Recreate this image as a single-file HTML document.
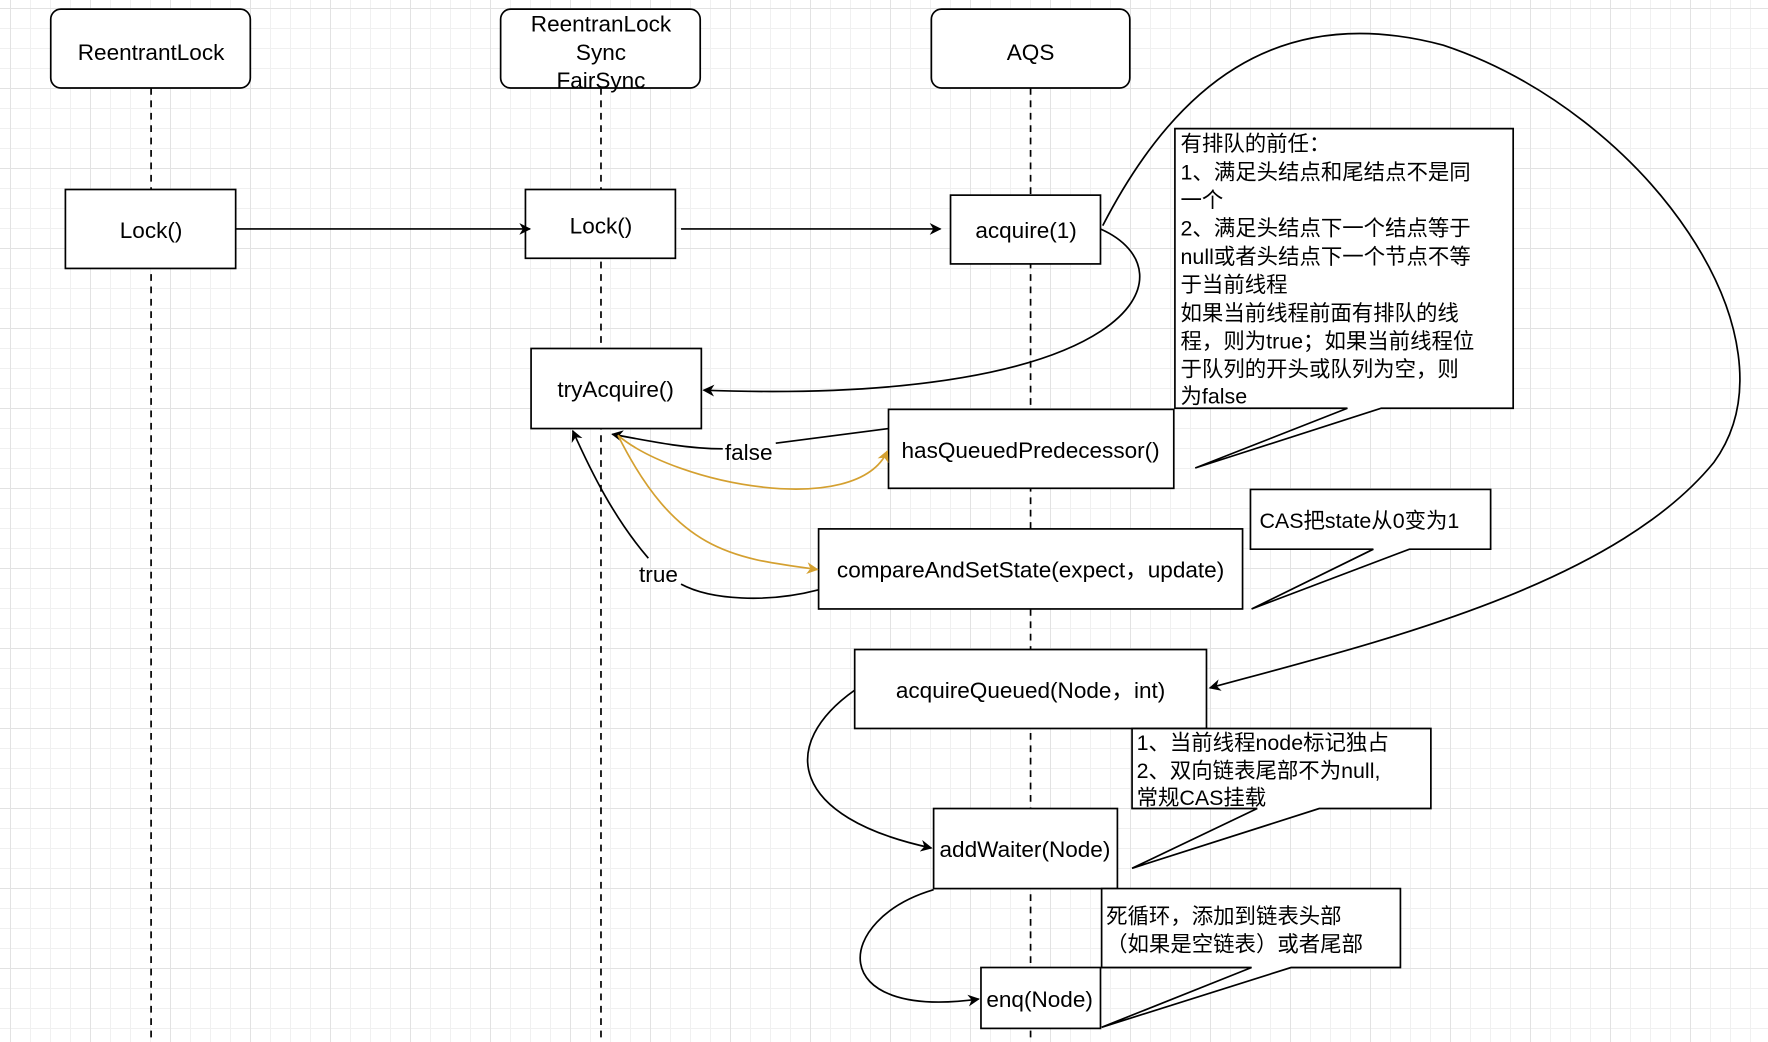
<!DOCTYPE html>
<html><head><meta charset="utf-8"><style>
html,body{margin:0;padding:0;}
body{width:1768px;height:1042px;overflow:hidden;background-color:#fff;
background-image:
linear-gradient(to right,#e2e2e2 1px,transparent 1px),
linear-gradient(to bottom,#e2e2e2 1px,transparent 1px),
linear-gradient(to right,#f0f0f0 1px,transparent 1px),
linear-gradient(to bottom,#f0f0f0 1px,transparent 1px);
background-size:80px 80px,80px 80px,20px 20px,20px 20px;
background-position:10px 8px,10px 8px,10px 8px,10px 8px;}
svg{position:absolute;left:0;top:0;}
text{font-family:"Liberation Sans","Noto Sans CJK SC",sans-serif;font-size:20px;fill:#000;}
.n{font-size:19px;}
</style></head><body>
<svg width="1768" height="1042" viewBox="0 0 1568 924">
<defs>
<marker id="a" viewBox="0 0 10 10" refX="9" refY="5" markerWidth="7" markerHeight="7" orient="auto"><path d="M0,0 L10,5 L0,10 L3,5 z" fill="#000"/></marker>
<marker id="g" viewBox="0 0 10 10" refX="9" refY="5" markerWidth="7" markerHeight="7" orient="auto"><path d="M0,0 L10,5 L0,10 L3,5 z" fill="#d4a030"/></marker>
</defs>
<g stroke="#000" stroke-width="1.5" stroke-dasharray="6,5" fill="none">
<line x1="134" y1="78" x2="134" y2="924"/><line x1="533" y1="78" x2="533" y2="924"/><line x1="914" y1="78" x2="914" y2="924"/>
</g>
<g stroke="#000" stroke-width="1.5" fill="#fff">
<rect x="45" y="8" width="177" height="70" rx="9"/>
<rect x="444" y="8" width="177" height="70" rx="9"/>
<rect x="826" y="8" width="176" height="70" rx="9"/>
<rect x="58" y="168" width="151" height="70"/>
<rect x="466" y="168" width="133" height="61"/>
<rect x="843" y="173" width="133" height="61"/>
<rect x="471" y="309" width="151" height="71"/>
<rect x="788" y="363" width="253" height="70"/>
<rect x="726" y="469" width="376" height="71"/>
<rect x="758" y="576" width="312" height="70"/>
<rect x="828" y="717" width="163" height="71"/>
<rect x="870" y="858" width="106" height="54"/>
<path d="M1042,114 H1342 V362 H1225 L1060,415 L1195,362 H1042 Z"/>
<path d="M1109,434 H1322 V487 H1250 L1110,540 L1218,487 H1109 Z"/>
<path d="M1004,646 H1269 V717 H1170 L1004,770 L1115,717 H1004 Z"/>
<path d="M977,788 H1242 V858 H1145 L977,911 L1110,858 H977 Z"/>
</g>
<g fill="none" stroke="#000" stroke-width="1.5">
<line x1="209" y1="203" x2="470" y2="203" marker-end="url(#a)"/>
<line x1="604" y1="203" x2="834" y2="203" marker-end="url(#a)"/>
<path d="M976,203 C1060,240 1010,360 624,346" marker-end="url(#a)"/>
<path d="M978,200 C1040,80 1130,0 1280,40 C1460,100 1600,300 1520,410 C1430,520 1220,570 1073,610" marker-end="url(#a)"/>
<path d="M788,380 L688,393 M641,398 C610,398 580,392 543,385" marker-end="url(#a)"/>
<path d="M726,523 C680,535 630,532 604,518 M575,495 C545,460 525,420 508,382" marker-end="url(#a)"/>
<path d="M758,612 C690,660 700,725 826,752" marker-end="url(#a)"/>
<path d="M828,789 C740,815 730,905 868,886" marker-end="url(#a)"/>
</g>
<g fill="none" stroke="#d4a030" stroke-width="1.5">
<path d="M548,386 C600,430 760,460 787,400" marker-end="url(#g)"/>
<path d="M548,386 C600,490 650,495 725,505" marker-end="url(#g)"/>
</g>
<g text-anchor="middle">
<text x="134" y="53">ReentrantLock</text>
<text x="533" y="28">ReentranLock</text><text x="533" y="53">Sync</text><text x="533" y="78">FairSync</text>
<text x="914" y="53">AQS</text>
<text x="134" y="211">Lock()</text>
<text x="533" y="207">Lock()</text>
<text x="910" y="211">acquire(1)</text>
<text x="546" y="352">tryAcquire()</text>
<text x="914" y="406">hasQueuedPredecessor()</text>
<text x="914" y="512">compareAndSetState(expect，update)</text>
<text x="914" y="619">acquireQueued(Node，int)</text>
<text x="909" y="760">addWaiter(Node)</text>
<text x="922" y="893">enq(Node)</text>
<text x="664" y="408">false</text>
<text x="584" y="516">true</text>
</g>
<g class="n">
<text class="n" x="1047" y="134">有排队的前任：</text>
<text class="n" x="1047" y="159">1、满足头结点和尾结点不是同</text>
<text class="n" x="1047" y="184">一个</text>
<text class="n" x="1047" y="209">2、满足头结点下一个结点等于</text>
<text class="n" x="1047" y="234">null或者头结点下一个节点不等</text>
<text class="n" x="1047" y="259">于当前线程</text>
<text class="n" x="1047" y="284">如果当前线程前面有排队的线</text>
<text class="n" x="1047" y="309">程，则为true；如果当前线程位</text>
<text class="n" x="1047" y="334">于队列的开头或队列为空，则</text>
<text class="n" x="1047" y="358">为false</text>
<text class="n" x="1117" y="468">CAS把state从0变为1</text>
<text class="n" x="1008" y="665">1、当前线程node标记独占</text>
<text class="n" x="1008" y="690">2、双向链表尾部不为null,</text>
<text class="n" x="1008" y="714">常规CAS挂载</text>
<text class="n" x="981" y="819">死循环，添加到链表头部</text>
<text class="n" x="981" y="844">（如果是空链表）或者尾部</text>
</g>
</svg>
</body></html>
